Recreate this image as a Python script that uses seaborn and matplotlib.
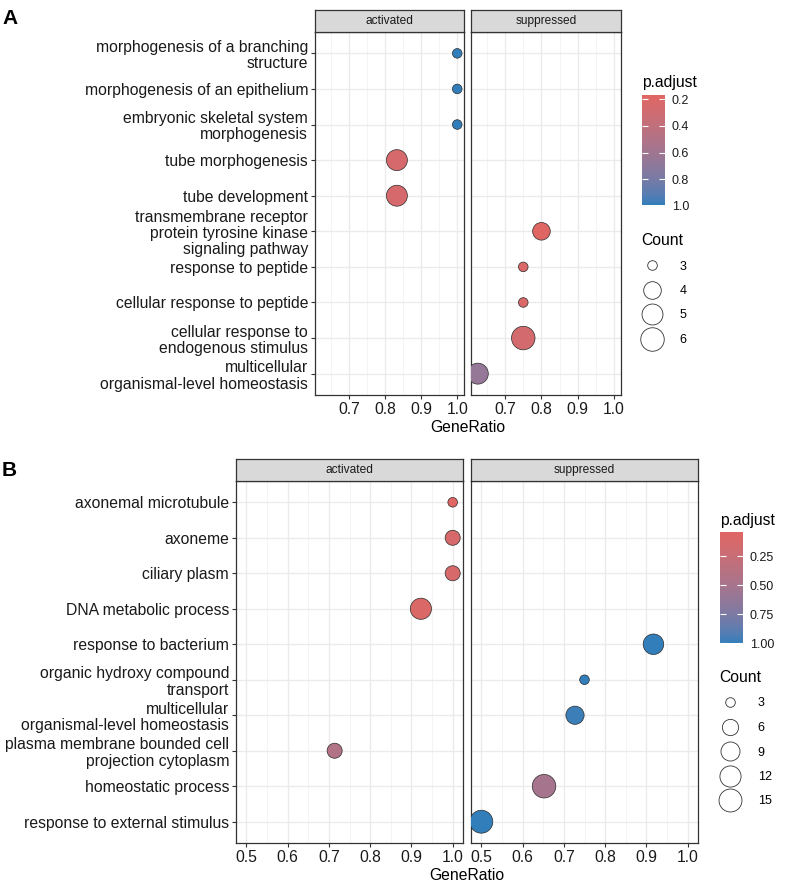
import numpy as np
import pandas as pd
import matplotlib
matplotlib.use("Agg")
import matplotlib.pyplot as plt
import seaborn as sns
from matplotlib.colors import LinearSegmentedColormap, Normalize
from matplotlib.cm import ScalarMappable
from matplotlib.lines import Line2D
from matplotlib.ticker import MultipleLocator, AutoMinorLocator, FormatStrFormatter

# ---- panel A data (top to bottom) ----
a_terms = [
    "morphogenesis of a branching\nstructure",
    "morphogenesis of an epithelium",
    "embryonic skeletal system\nmorphogenesis",
    "tube morphogenesis",
    "tube development",
    "transmembrane receptor\nprotein tyrosine kinase\nsignaling pathway",
    "response to peptide",
    "cellular response to peptide",
    "cellular response to\nendogenous stimulus",
    "multicellular\norganismal-level homeostasis",
]
a_group = ["activated"] * 5 + ["suppressed"] * 5
a_ratio = [1.0, 1.0, 1.0, 0.833, 0.833, 0.8, 0.75, 0.75, 0.75, 0.625]
a_count = [3, 3, 3, 5, 5, 4, 3, 3, 6, 5]
a_padj = [0.99, 0.99, 0.99, 0.25, 0.25, 0.17, 0.22, 0.22, 0.27, 0.66]
a_cbar_ticks = [0.2, 0.4, 0.6, 0.8, 1.0]
a_size_ticks = [3, 4, 5, 6]

# ---- panel B data (top to bottom) ----
b_terms = [
    "axonemal microtubule",
    "axoneme",
    "ciliary plasm",
    "DNA metabolic process",
    "response to bacterium",
    "organic hydroxy compound\ntransport",
    "multicellular\norganismal-level homeostasis",
    "plasma membrane bounded cell\nprojection cytoplasm",
    "homeostatic process",
    "response to external stimulus",
]
b_group = ["activated", "activated", "activated", "activated", "suppressed",
           "suppressed", "suppressed", "activated", "suppressed", "suppressed"]
b_ratio = [1.0, 1.0, 1.0, 0.923, 0.917, 0.75, 0.727, 0.714, 0.652, 0.5]
b_count = [3, 5, 5, 12, 11, 3, 8, 5, 16, 15]
b_padj = [0.04, 0.12, 0.12, 0.09, 1.0, 1.0, 0.98, 0.42, 0.5, 1.0]
b_cbar_ticks = [0.25, 0.50, 0.75, 1.00]
b_size_ticks = [3, 6, 9, 12, 15]

LOW, HIGH = "#e06663", "#327eba"
W, H = 789, 886
FS = 11.3


# gradient interpolated in CIELAB like ggplot's scale_colour_gradient
def _to_lab(hexc):
    c = np.array(matplotlib.colors.to_rgb(hexc))
    lin = np.where(c > 0.04045, ((c + 0.055) / 1.055) ** 2.4, c / 12.92)
    M = np.array([[0.4124, 0.3576, 0.1805], [0.2126, 0.7152, 0.0722], [0.0193, 0.1192, 0.9505]])
    xyz = M @ lin / np.array([0.95047, 1.0, 1.08883])
    f = np.where(xyz > 0.008856, np.cbrt(xyz), 7.787 * xyz + 16 / 116)
    return np.array([116 * f[1] - 16, 500 * (f[0] - f[1]), 200 * (f[1] - f[2])])


def _from_lab(lab):
    fy = (lab[0] + 16) / 116
    f = np.array([fy + lab[1] / 500, fy, fy - lab[2] / 200])
    xyz = np.where(f ** 3 > 0.008856, f ** 3, (f - 16 / 116) / 7.787) * np.array([0.95047, 1.0, 1.08883])
    Mi = np.array([[3.2406, -1.5372, -0.4986], [-0.9689, 1.8758, 0.0415], [0.0557, -0.2040, 1.0570]])
    lin = Mi @ xyz
    c = np.where(lin > 0.0031308, 1.055 * np.clip(lin, 0, None) ** (1 / 2.4) - 0.055, 12.92 * lin)
    return np.clip(c, 0, 1)


lab1, lab2 = _to_lab(LOW), _to_lab(HIGH)
cmap = LinearSegmentedColormap.from_list(
    "padj", [_from_lab(lab1 + (lab2 - lab1) * t) for t in np.linspace(0, 1, 64)])


def px(x0, y0, x1, y1):
    return [x0 / W, 1 - y1 / H, (x1 - x0) / W, (y1 - y0) / H]


def size_pt(c, cmin, cmax, dmin=9.6, dmax=23.5):
    d = dmin + (dmax - dmin) * np.sqrt((c - cmin) / (cmax - cmin))
    return d * 0.72


plt.rcParams["font.family"] = ["Liberation Sans", "DejaVu Sans"]
fig = plt.figure(figsize=(W / 100, H / 100), dpi=100)


def draw_panel(terms, groups, ratio, count, padj, xlim, facets_px, top, bottom,
               cbar_px, cbar_ticks, cbar_fmt, size_ticks, size_anchor, letter_xy, letter):
    df = pd.DataFrame({"Description": terms, "group": groups, "GeneRatio": ratio,
                       "Count": count, "p.adjust": padj})
    df["ypos"] = np.arange(len(terms))
    norm = Normalize(min(padj), max(padj))
    cmin, cmax = min(count), max(count)
    size_map = {c: size_pt(c, cmin, cmax) ** 2 for c in sorted(set(count))}
    for k, (name, (x0, x1)) in enumerate(zip(["activated", "suppressed"], facets_px)):
        ax = fig.add_axes(px(x0, top, x1, bottom))
        sub = df[df["group"] == name]
        sns.scatterplot(data=sub, x="GeneRatio", y="ypos", hue="p.adjust", palette=cmap,
                        hue_norm=norm, size="Count", sizes=size_map, legend=False,
                        edgecolor="#2b2b2b", linewidth=0.5, ax=ax, zorder=3)
        ax.set_xlim(*xlim)
        ax.set_ylim(len(terms) - 0.4, -0.6)
        ax.xaxis.set_major_locator(MultipleLocator(0.1))
        ax.xaxis.set_major_formatter(FormatStrFormatter("%.1f"))
        ax.xaxis.set_minor_locator(AutoMinorLocator(2))
        ax.set_yticks(np.arange(len(terms)))
        ax.grid(which="major", color="#EBEBEB", lw=1.0, zorder=0)
        ax.grid(which="minor", axis="x", color="#F2F2F2", lw=0.6, zorder=0)
        ax.set_axisbelow(True)
        ax.set_xlabel("")
        ax.set_ylabel("")
        for s in ax.spines.values():
            s.set_color("#333333")
            s.set_linewidth(0.9)
        ax.tick_params(axis="x", which="major", length=3, color="#333333", labelsize=FS,
                       labelcolor="#1a1a1a", pad=2)
        ax.tick_params(axis="x", which="minor", length=0)
        if k == 0:
            ax.set_yticklabels(terms, fontsize=FS, color="#1a1a1a", ha="right",
                               multialignment="right", linespacing=1.12)
            ax.tick_params(axis="y", length=3, color="#333333", pad=2)
        else:
            ax.tick_params(axis="y", left=False, labelleft=False)
        # facet strip
        sax = fig.add_axes(px(x0, top - 22, x1, top))
        sax.set_facecolor("#D9D9D9")
        sax.set_xticks([])
        sax.set_yticks([])
        for s in sax.spines.values():
            s.set_color("#333333")
            s.set_linewidth(0.9)
        sax.text(0.5, 0.5, name, ha="center", va="center", fontsize=8.6, color="#1a1a1a",
                 transform=sax.transAxes)
    fig.text((facets_px[0][0] + facets_px[1][1]) / 2 / W, 1 - (bottom + 33) / H, "GeneRatio",
             ha="center", va="center", fontsize=FS, color="#000000")
    fig.text(letter_xy[0] / W, 1 - letter_xy[1] / H, letter, fontsize=15, fontweight="bold",
             ha="left", va="center")

    # colour bar
    cax = fig.add_axes(px(*cbar_px))
    cb = fig.colorbar(ScalarMappable(norm=norm, cmap=cmap), cax=cax)
    cb.outline.set_visible(False)
    cax.invert_yaxis()
    cb.set_ticks(cbar_ticks)
    cax.yaxis.set_major_formatter(FormatStrFormatter(cbar_fmt))
    cax.tick_params(direction="in", color="white", length=4, width=0.8, left=True,
                    labelsize=9, pad=5, labelcolor="#1a1a1a")
    fig.text(cbar_px[0] / W, 1 - (cbar_px[1] - 12) / H, "p.adjust", fontsize=FS,
             ha="left", va="center")

    # size legend
    handles = [Line2D([], [], marker="o", ls="", markersize=size_pt(c, cmin, cmax),
                      markerfacecolor="white", markeredgecolor="#333333",
                      markeredgewidth=0.6) for c in size_ticks]
    fig.legend(handles, [str(c) for c in size_ticks], title="Count",
               loc="upper left", bbox_to_anchor=(size_anchor[0] / W, 1 - size_anchor[1] / H),
               frameon=False, fontsize=9, title_fontsize=FS, labelspacing=1.0,
               handlelength=1.7, handletextpad=1.4, borderaxespad=0, borderpad=0,
               alignment="left")


draw_panel(a_terms, a_group, a_ratio, a_count, a_padj, (0.60625, 1.01875),
           [(315, 464), (471, 621)], 32, 395, (642, 95, 665, 206), a_cbar_ticks, "%.1f",
           a_size_ticks, (641, 233), (2, 18), "A")
draw_panel(b_terms, b_group, b_ratio, b_count, b_padj, (0.475, 1.025),
           [(236, 463), (471, 698)], 481, 843, (720, 532, 743, 643), b_cbar_ticks, "%.2f",
           b_size_ticks, (719, 670), (2, 471), "B")

fig.savefig("out.png", dpi=100)
